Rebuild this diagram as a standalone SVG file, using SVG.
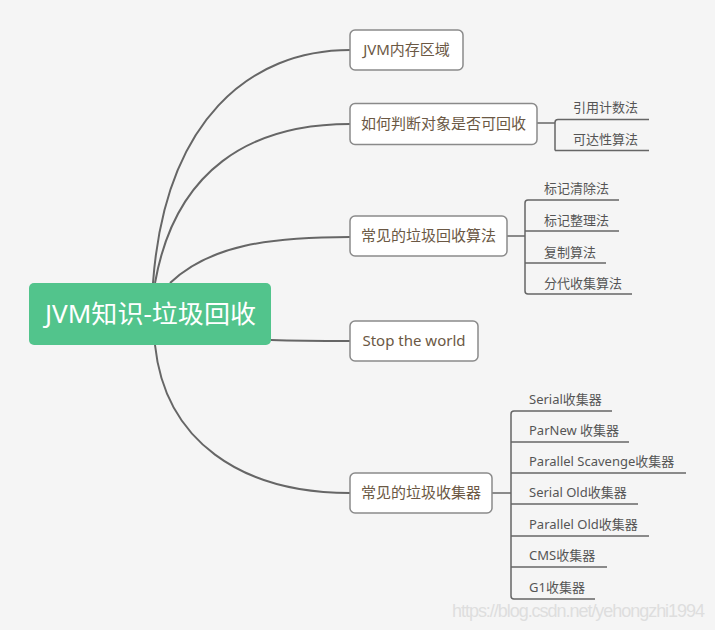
<svg xmlns="http://www.w3.org/2000/svg" width="715" height="630" viewBox="0 0 715 630">
<style>
.bg{fill:#f5f5f5}
.curve{fill:none;stroke:#666;stroke-width:2}
.br{fill:none;stroke:#666;stroke-width:1.5}
.box{fill:#fff;stroke:#8a8a8a;stroke-width:1.5}
.nt{font-family:"Noto Sans","Noto Sans CJK SC",sans-serif;font-size:15px;fill:#6b5844;text-anchor:middle}
.lt{font-family:"Noto Sans","Noto Sans CJK SC",sans-serif;font-size:13px;fill:#555}
.root{fill:#52c48c}
.rt{font-family:"Noto Sans","Noto Sans CJK SC",sans-serif;font-size:25px;fill:#fff}
.wm{font-family:"Liberation Sans",sans-serif;font-size:18px;fill:#dedede}
</style>
<rect class="bg" x="0" y="0" width="715" height="630"/>
<g id="connectors">
<path class="curve" d="M153,283 C165,120 250,50 350,50"/>
<path class="curve" d="M155,283 C175,170 250,124 350,124"/>
<path class="curve" d="M170,283 C210,245 270,237 350,237"/>
<path class="curve" d="M271,340 C300,341 320,341 350,341"/>
<path class="curve" d="M155,345 C165,440 240,493 350,493"/>
<path class="br" d="M537,123 H555"/>
<path class="br" d="M555,150.5 V122.5 Q555,119.5 558,119.5 H649"/>
<path class="br" d="M555,150.5 H649"/>
<path class="br" d="M507,236 H525"/>
<path class="br" d="M619,200 H528 Q525,200 525,203 V291 Q525,294 528,294 H632"/>
<path class="br" d="M525,231 H619"/>
<path class="br" d="M525,263 H606"/>
<path class="br" d="M492,493 H511"/>
<path class="br" d="M612,411 H514 Q511,411 511,414 V596 Q511,599 514,599 H595"/>
<path class="br" d="M511,442 H629"/>
<path class="br" d="M511,473 H686"/>
<path class="br" d="M511,504 H638"/>
<path class="br" d="M511,536 H649"/>
<path class="br" d="M511,567 H607"/>
</g>
<g id="root">
<rect class="root" x="29" y="283" width="242" height="62" rx="5"/>
<text class="rt" x="45" y="323" textLength="211" lengthAdjust="spacingAndGlyphs">JVM知识-垃圾回收</text>
</g>
<g id="n1">
<rect class="box" x="350" y="30" width="113" height="40" rx="5"/>
<text class="nt" x="406.5" y="55">JVM内存区域</text>
</g>
<g id="n2">
<rect class="box" x="350" y="103.5" width="187" height="41" rx="5"/>
<text class="nt" x="443.5" y="129">如何判断对象是否可回收</text>
</g>
<g id="n2a"><text class="lt" x="573" y="112">引用计数法</text></g>
<g id="n2b"><text class="lt" x="573" y="143.5">可达性算法</text></g>
<g id="n3">
<rect class="box" x="350" y="216" width="157" height="40" rx="5"/>
<text class="nt" x="428.5" y="241">常见的垃圾回收算法</text>
</g>
<g id="n3a"><text class="lt" x="544" y="193">标记清除法</text></g>
<g id="n3b"><text class="lt" x="544" y="224.5">标记整理法</text></g>
<g id="n3c"><text class="lt" x="544" y="256.5">复制算法</text></g>
<g id="n3d"><text class="lt" x="544" y="287.5">分代收集算法</text></g>
<g id="n4">
<rect class="box" x="350" y="321" width="128" height="40" rx="5"/>
<text class="nt" x="414" y="346">Stop the world</text>
</g>
<g id="n5">
<rect class="box" x="350" y="473" width="142" height="40" rx="5"/>
<text class="nt" x="421" y="498">常见的垃圾收集器</text>
</g>
<g id="n5a"><text class="lt" x="529" y="404">Serial收集器</text></g>
<g id="n5b"><text class="lt" x="529" y="435">ParNew 收集器</text></g>
<g id="n5c"><text class="lt" x="529" y="466">Parallel Scavenge收集器</text></g>
<g id="n5d"><text class="lt" x="529" y="497">Serial Old收集器</text></g>
<g id="n5e"><text class="lt" x="529" y="529">Parallel Old收集器</text></g>
<g id="n5f"><text class="lt" x="529" y="560">CMS收集器</text></g>
<g id="n5g"><text class="lt" x="529" y="592">G1收集器</text></g>
<text class="wm" x="452" y="617" textLength="253">https://blog.csdn.net/yehongzhi1994</text>
</svg>
